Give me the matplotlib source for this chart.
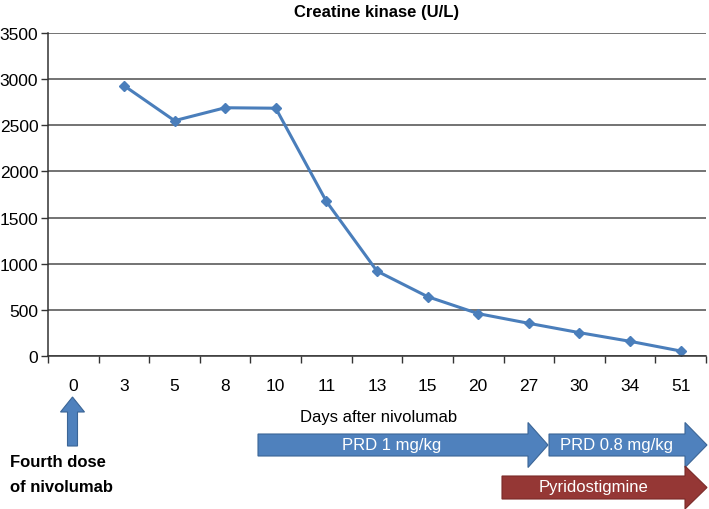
import matplotlib
matplotlib.use("Agg")
import matplotlib.pyplot as plt
from matplotlib.patches import Polygon
import numpy as np

plt.rcParams['font.family'] = ['Liberation Sans', 'DejaVu Sans']

days = ["0", "3", "5", "8", "10", "11", "13", "15", "20", "27", "30", "34", "51"]
ck = [np.nan, 2930, 2550, 2690, 2685, 1675, 920, 643, 459, 354, 253, 159, 54]
yticks = [0, 500, 1000, 1500, 2000, 2500, 3000, 3500]

FS = 12
TFS = 12.5
W, H = 709, 510
fig = plt.figure(figsize=(W / 100, H / 100), dpi=100)
ax = fig.add_axes([48 / W, (H - 357) / H, 658 / W, 323 / H])

x = np.arange(len(days))
ax.plot(x, ck, color="#4A7EBB", lw=2.2, marker="D", ms=5, mfc="#4A7EBB", mec="#4A7EBB")
ax.set_xlim(-0.5, len(days) - 0.5)
ax.set_ylim(0, 3500)
ax.set_yticks(yticks)
ax.set_yticklabels([str(v) for v in yticks], fontsize=TFS)
ax.yaxis.grid(True, color="#4d4d4d", lw=1.1)
ax.set_axisbelow(True)
ax.set_xticks(np.arange(-0.5, len(days), 1.0))
ax.set_xticklabels([])
ax.set_xticks(x, minor=True)
ax.set_xticklabels(days, minor=True, fontsize=TFS)
ax.tick_params(axis="x", which="major", length=5, direction="out", width=1, color="#333333")
ax.tick_params(axis="x", which="minor", length=0, pad=16)
ax.tick_params(axis="y", length=5, direction="out", width=1, color="#333333", pad=2)
for s in ["top", "right"]:
    ax.spines[s].set_visible(False)
for s in ["left", "bottom"]:
    ax.spines[s].set_color("#333333")
    ax.spines[s].set_linewidth(1.1)

fig.text(377 / W, 1 - 12 / H, "Creatine kinase (U/L)", ha="center", va="center",
         fontsize=FS, fontweight="bold")
fig.text(300 / W, 1 - 418 / H, "Days after nivolumab", ha="left", va="center", fontsize=FS)


def px(pts):
    return [(a / W, 1 - b / H) for a, b in pts]


def harrow(x0, x1, xh, yc, shaft_h, head_h, fc, ec):
    pts = [(x0, yc - shaft_h / 2), (xh, yc - shaft_h / 2), (xh, yc - head_h / 2),
           (x1, yc), (xh, yc + head_h / 2), (xh, yc + shaft_h / 2), (x0, yc + shaft_h / 2)]
    fig.add_artist(Polygon(px(pts), closed=True, facecolor=fc, edgecolor=ec, lw=0.8,
                           transform=fig.transFigure))


blue, blue_ec = "#4F81BD", "#3B6596"
red, red_ec = "#953735", "#7A2A28"

# up arrow at day 0
cx = 72.5
pts = [(cx - 5, 447), (cx - 5, 413), (cx - 12, 413), (cx, 398),
       (cx + 12, 413), (cx + 5, 413), (cx + 5, 447)]
fig.add_artist(Polygon(px(pts), closed=True, facecolor=blue, edgecolor=blue_ec, lw=0.8,
                       transform=fig.transFigure))
fig.text(10 / W, 1 - 463 / H, "Fourth dose", ha="left", va="center", fontsize=FS, fontweight="bold")
fig.text(10 / W, 1 - 488 / H, "of nivolumab", ha="left", va="center", fontsize=FS, fontweight="bold")

harrow(258, 548, 528, 446, 22, 45, blue, blue_ec)
fig.text(392 / W, 1 - 446 / H, "PRD 1 mg/kg", ha="center", va="center", fontsize=FS, color="white")
harrow(549, 707, 685, 446, 22, 45, blue, blue_ec)
fig.text(617 / W, 1 - 446 / H, "PRD 0.8 mg/kg", ha="center", va="center", fontsize=FS, color="white")
harrow(502, 707, 685, 488.5, 23, 43, red, red_ec)
fig.text(593 / W, 1 - 488 / H, "Pyridostigmine", ha="center", va="center", fontsize=FS, color="white")

fig.savefig("out.png", dpi=100)
